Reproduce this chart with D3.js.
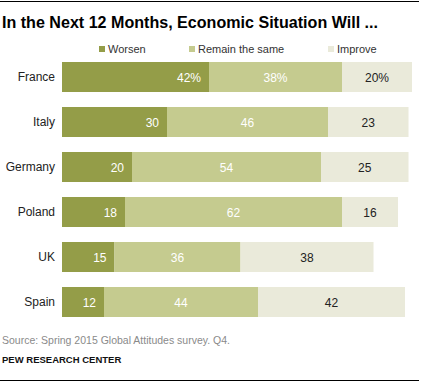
<!DOCTYPE html>
<html><head><meta charset="utf-8">
<script src="https://cdn.jsdelivr.net/npm/d3@7"></script>
<style>body{margin:0;background:#fff}svg{display:block}</style>
</head><body>
<script>
const categories = ["France","Italy","Germany","Poland","UK","Spain"];
const worsen = [42,30,20,18,15,12];
const remain = [38,46,54,62,36,44];
const improve = [20,23,25,16,38,42];
const seriesNames = ["Worsen","Remain the same","Improve"];
const colors = ["#949d48","#c5cb8f","#eaeada"];
const labelColors = ["#fff","#fff","#222"];

const W=421,H=383;
const svg=d3.select("body").append("svg").attr("width",W).attr("height",H);
const font="'Liberation Sans', Arial, sans-serif";

svg.append("line").attr("x1",0).attr("x2",419).attr("y1",1.5).attr("y2",1.5).attr("stroke","#000").attr("stroke-width",1);
svg.append("line").attr("x1",0).attr("x2",419).attr("y1",380.5).attr("y2",380.5).attr("stroke","#000").attr("stroke-width",1);

const title=svg.append("text").attr("x",2).attr("y",28).attr("font-family",font).attr("font-weight","bold")
 .attr("font-size",16.5).attr("fill","#000").text("In the Next 12 Months, Economic Situation Will ...");
title.attr("textLength",376).attr("lengthAdjust","spacingAndGlyphs");

const x=d3.scaleLinear().domain([0,100]).range([62,412]);
const y=d3.scaleBand().domain(categories).range([62,317]).paddingInner(15/45).paddingOuter(0);
const data=categories.map((c,i)=>({cat:c,vals:[worsen[i],remain[i],improve[i]]}));

// legend
const legX=[99,189,328];
seriesNames.forEach((n,i)=>{
  svg.append("rect").attr("x",legX[i]).attr("y",46).attr("width",6).attr("height",6).attr("fill",colors[i]);
  svg.append("text").attr("x",legX[i]+9).attr("y",53).attr("font-family",font).attr("font-size",11).attr("fill","#333").text(n);
});

const g=svg.append("g");
data.forEach((d,ri)=>{
  let cum=0;
  const yy=y(d.cat), bh=y.bandwidth();
  g.append("text").attr("x",55).attr("y",yy+bh/2+4).attr("text-anchor","end").attr("font-family",font).attr("font-size",12).attr("fill","#222").text(d.cat);
  d.vals.forEach((v,si)=>{
    const x0=x(cum), x1=x(cum+v);
    g.append("rect").attr("x",x0).attr("y",yy).attr("width",x1-x0).attr("height",bh).attr("fill",colors[si]);
    const lab = ri===0 ? v+"%" : String(v);
    const t=g.append("text").attr("y",yy+bh/2+4.5).attr("font-family",font).attr("font-size",12).attr("fill",labelColors[si]).text(lab);
    if(si===0) t.attr("x",x1-8).attr("text-anchor","end");
    else t.attr("x",(x0+x1)/2).attr("text-anchor","middle");
    cum+=v;
  });
});

svg.append("text").attr("x",2).attr("y",344).attr("font-family",font).attr("font-size",10.5).attr("fill","#8a8a8a").text("Source: Spring 2015 Global Attitudes survey. Q4.");
svg.append("text").attr("x",2).attr("y",363).attr("font-family",font).attr("font-size",9.5).attr("font-weight","bold").attr("fill","#111").text("PEW RESEARCH CENTER");
</script>
</body></html>
